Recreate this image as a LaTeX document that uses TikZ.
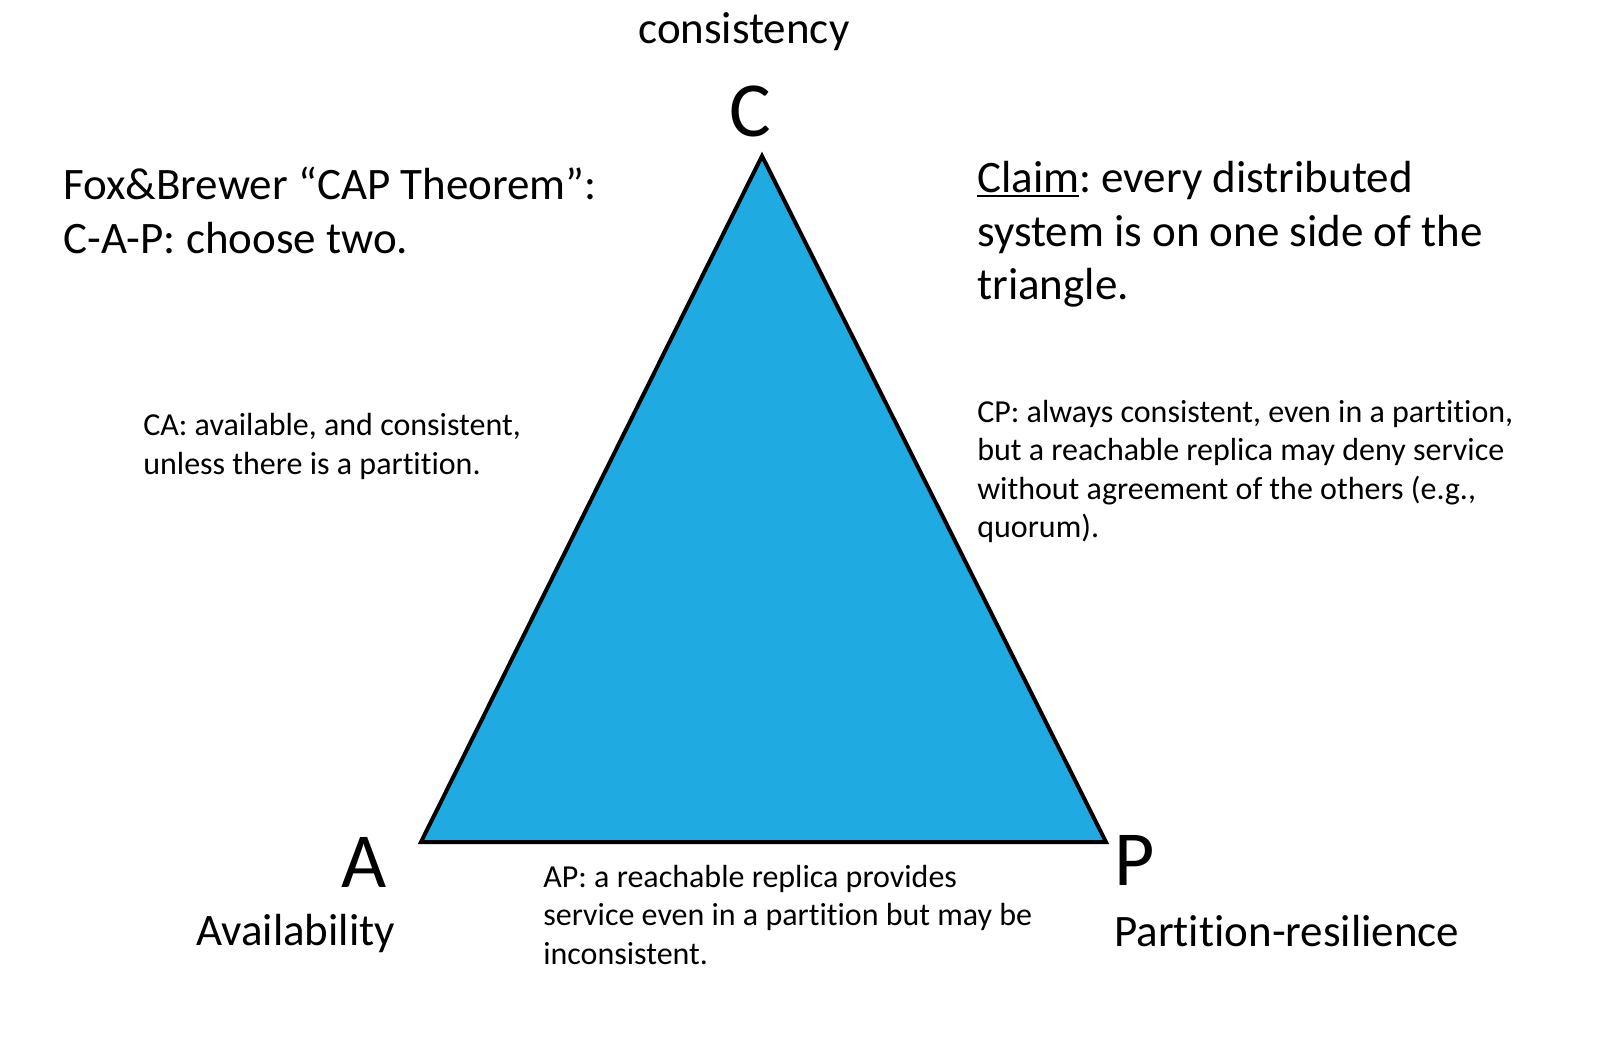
\documentclass[tikz,border=0pt]{standalone}
\usepackage{fontspec}
\setmainfont[Ligatures={NoCommon,NoRare,NoContextual}]{Carlito}
\frenchspacing
\definecolor{capblue}{RGB}{31,171,226}
\newcommand\ulword[1]{\leavevmode\setbox0\hbox{#1}\rlap{\rule[-3.2pt]{\wd0}{1.7pt}}\box0}
\newcommand\tI{t\kern0pt i}
\begin{document}
\begin{tikzpicture}[x=0.6pt,y=-0.6pt,
  big/.style={font=\fontsize{27}{32.4}\selectfont\frenchspacing, inner sep=0pt, anchor=base west},
  small/.style={font=\fontsize{19.2}{23.4}\selectfont\frenchspacing, inner sep=0pt, anchor=base west},
  letter/.style={font=\fontsize{46.8}{56}\selectfont, inner sep=0pt, anchor=base},
  tri/.style={fill=capblue, draw=black, line width=2.4pt, line join=miter}]
\useasboundingbox (0,0) rectangle (1599,1038);
\coordinate (vC) at (762,156);
\coordinate (vA) at (421,842);
\coordinate (vP) at (1106,842);
\draw[tri] (vC) -- (vA) -- (vP) -- cycle;
\node[big] (cons) at (638,43) {consistency};
\node[letter] (lC) at (750,136) {C};
\node[letter] (lA) at (364,887) {A};
\node[letter] (lP) at (1135,885) {P};
\node[big] (avail) at (196,945) {Availability};
\node[big] (part) at (1114,946) {Par\tI\tI on-resilience};
\node[big] (fox) at (63,199) {\parbox[t]{600pt}{\fontsize{27}{32.4}\selectfont Fox\&Brewer “CAP Theorem”:\\C-A-P: choose two.}};
\node[big] (claim) at (977,192) {\parbox[t]{600pt}{\fontsize{27}{32.4}\selectfont \ulword{Claim}: every distributed\\system is on one side of the\\triangle.}};
\node[small] (ca) at (143,435) {\parbox[t]{600pt}{\fontsize{19.2}{23.7}\selectfont CA: available, and consistent,\\unless there is a par\tI\tI on.}};
\node[small] (cp) at (977,422) {\parbox[t]{600pt}{\fontsize{19.2}{23.1}\selectfont CP: always consistent, even in a par\tI\tI on,\\but a reachable replica may deny service\\without agreement of the others (e.g.,\\quorum).}};
\node[small] (ap) at (543,887) {\parbox[t]{600pt}{\fontsize{19.2}{23.1}\selectfont AP: a reachable replica provides\\service even in a par\tI\tI on but may be\\inconsistent.}};
\end{tikzpicture}
\end{document}
